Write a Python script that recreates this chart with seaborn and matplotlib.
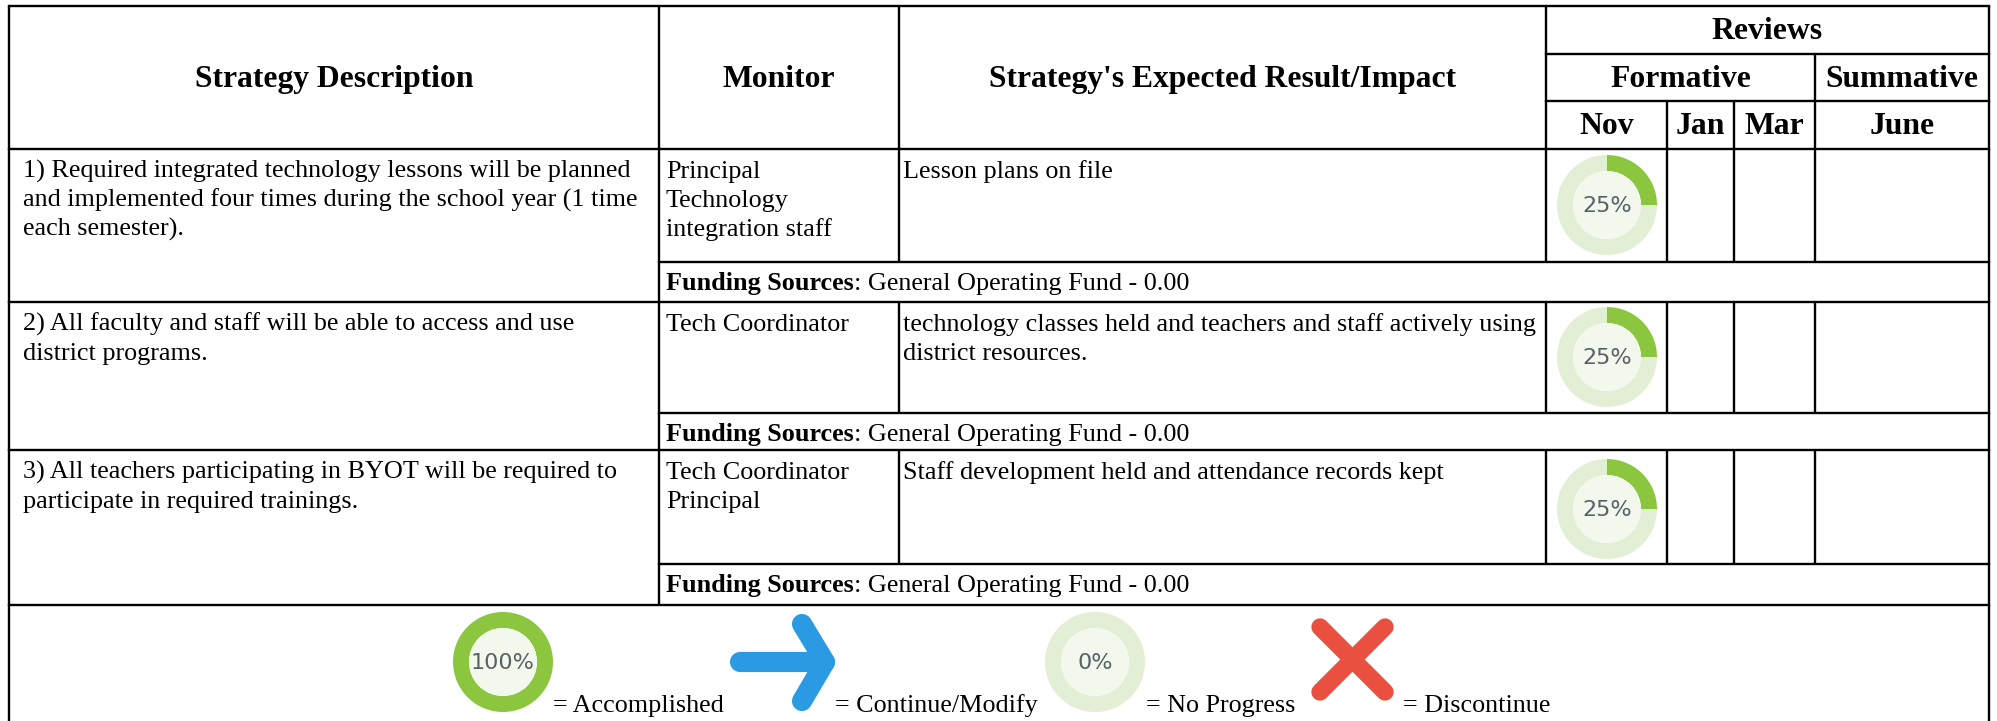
import matplotlib
matplotlib.use('Agg')
import matplotlib.pyplot as plt
import seaborn as sns

sns.set_theme(style='white')
plt.rcParams['font.family'] = ['Liberation Serif', 'DejaVu Sans']

# isi tabel
headers = ['Strategy Description', 'Monitor', "Strategy's Expected Result/Impact"]
review_title = 'Reviews'
review_groups = ['Formative', 'Summative']
review_months = ['Nov', 'Jan', 'Mar', 'June']
strategies = [
    '1) Required integrated technology lessons will be planned\nand implemented four times during the school year (1 time\neach semester).',
    '2) All faculty and staff will be able to access and use\ndistrict programs.',
    '3) All teachers participating in BYOT will be required to\nparticipate in required trainings.',
]
monitors = ['Principal\nTechnology\nintegration staff', 'Tech Coordinator', 'Tech Coordinator\nPrincipal']
results = [
    'Lesson plans on file',
    'technology classes held and teachers and staff actively using\ndistrict resources.',
    'Staff development held and attendance records kept',
]
funding = ['General Operating Fund - 0.00'] * 3
nov_progress = [25, 25, 25]
legend_labels = ['= Accomplished', '= Continue/Modify', '= No Progress', '= Discontinue']
legend_progress = [100, 0]

# warna
green = '#8CC63F'
green_light = '#E2EFD4'
green_inner = '#F2F8EC'
blue = '#2A9BE3'
red = '#E95040'

# posisi dalam piksel
x_left, x_c1, x_c2, x_c3, x_jan, x_mar, x_june, x_right = 9, 659, 899, 1546, 1667, 1734, 1815, 1989
y_top, y_h1, y_h2, y_h3 = 6, 54, 101, 149
row_fund = [262, 413, 564]
row_end = [302, 450, 605]
row_start = [149, 302, 450]
donut_y = [205, 357, 509]
line_h = 29

fig = plt.figure(figsize=(19.97, 7.21), dpi=100)
ax = fig.add_axes([0, 0, 1, 1])


def hline(y, x0, x1):
    ax.plot([x0, x1], [y, y], color='black', lw=1.7, solid_capstyle='projecting')


def vline(x, y0, y1):
    ax.plot([x, x], [y0, y1], color='black', lw=1.7, solid_capstyle='butt')


def donut(cx, cy, pct, label):
    # sumbu y terbalik, jadi pie dimulai dari -90 supaya mulai dari atas
    ax.pie([pct, 100 - pct], colors=[green, green_light], center=(cx, cy), radius=50,
           startangle=-90, counterclock=True, frame=True,
           wedgeprops={'width': 16, 'linewidth': 0})
    ax.add_patch(plt.Circle((cx, cy), 34, color=green_inner, lw=0))
    ax.text(cx, cy + 1, label, ha='center', va='center', fontsize=16,
            family='DejaVu Sans', color='#5A6068')


def multiline(x, y, txt):
    for i, baris in enumerate(txt.split('\n')):
        ax.text(x, y + i * line_h, baris, fontsize=body_size, color='black', ha='left', va='baseline')


body_size = 18.85
head_size = 22.8

# garis header
hline(y_top, x_left, x_right)
hline(y_h1, x_c3, x_right)
hline(y_h2, x_c3, x_right)
hline(y_h3, x_left, x_right)
vline(x_left, y_top, 721)
vline(x_right, y_top, 721)
vline(x_c1, y_top, row_end[-1])
vline(x_c2, y_top, y_h3)
vline(x_c3, y_top, y_h3)
vline(x_june, y_h1, y_h3)
vline(x_jan, y_h2, y_h3)
vline(x_mar, y_h2, y_h3)

# garis tiap baris
for i in range(3):
    hline(row_fund[i], x_c1, x_right)
    hline(row_end[i], x_left, x_right)
    for x in [x_c2, x_c3, x_jan, x_mar, x_june]:
        vline(x, row_start[i], row_fund[i])

# teks header
for txt, x0, x1 in zip(headers, [x_left, x_c1, x_c2], [x_c1, x_c2, x_c3]):
    ax.text((x0 + x1) / 2, 87, txt, ha='center', va='baseline', fontsize=head_size, fontweight='bold', color='black')
ax.text((x_c3 + x_right) / 2, 39, review_title, ha='center', va='baseline', fontsize=head_size, fontweight='bold', color='black')
ax.text((x_c3 + x_june) / 2, 87, review_groups[0], ha='center', va='baseline', fontsize=head_size, fontweight='bold', color='black')
ax.text((x_june + x_right) / 2, 87, review_groups[1], ha='center', va='baseline', fontsize=head_size, fontweight='bold', color='black')
month_x = [(x_c3 + x_jan) / 2, (x_jan + x_mar) / 2, (x_mar + x_june) / 2, (x_june + x_right) / 2]
for txt, x in zip(review_months, month_x):
    ax.text(x, 134, txt, ha='center', va='baseline', fontsize=head_size, fontweight='bold', color='black')

# isi baris
for i in range(3):
    base = row_start[i] + 29
    multiline(23, base, strategies[i])
    multiline(666, base, monitors[i])
    multiline(903, base, results[i])
    donut(1607, donut_y[i], nov_progress[i], f'{nov_progress[i]}%')

ax.set_xlim(0, 1997)
ax.set_ylim(721, 0)
ax.set_aspect('equal')
ax.axis('off')

# baris dana: bagian tebal diukur dulu
fig.canvas.draw()
renderer = fig.canvas.get_renderer()
for i in range(3):
    y = row_fund[i] + 28
    t = ax.text(666, y, 'Funding Sources', fontsize=body_size, fontweight='bold', color='black', va='baseline')
    x_end = ax.transData.inverted().transform(t.get_window_extent(renderer))[1][0]
    ax.text(x_end, y, ': ' + funding[i], fontsize=body_size, color='black', va='baseline')

# legenda
donut(503, 662, legend_progress[0], f'{legend_progress[0]}%')
donut(1095, 662, legend_progress[1], f'{legend_progress[1]}%')
ax.plot([740, 825], [662, 662], color=blue, lw=14.5, solid_capstyle='round')
ax.plot([802, 825, 802], [624, 662, 701], color=blue, lw=14.5, solid_capstyle='round', solid_joinstyle='round')
ax.plot([1320, 1385], [627, 692], color=red, lw=12.5, solid_capstyle='round')
ax.plot([1385, 1320], [627, 692], color=red, lw=12.5, solid_capstyle='round')
for txt, x in zip(legend_labels, [553, 835, 1146, 1403]):
    ax.text(x, 712, txt, fontsize=body_size, color='black', ha='left', va='baseline')

ax.set_xlim(0, 1997)
ax.set_ylim(721, 0)
fig.savefig('out.png', dpi=100, facecolor='white')
